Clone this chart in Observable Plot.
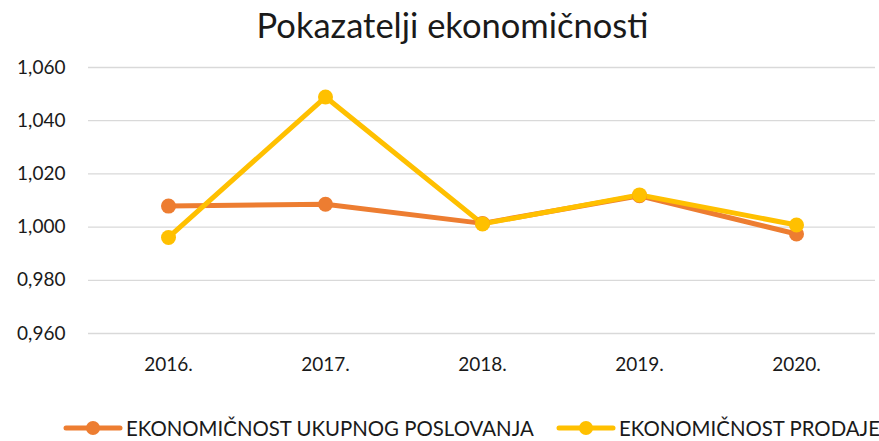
<!DOCTYPE html>
<html>
<head>
<meta charset="utf-8">
<script src="https://cdn.jsdelivr.net/npm/d3@7"></script>
<script src="https://cdn.jsdelivr.net/npm/@observablehq/plot@0.6"></script>
<style>
  html, body { margin: 0; padding: 0; background: #fff; }
  #wrap { width: 879px; height: 441px; position: relative; font-family: Lato, "Open Sans", sans-serif; color: #1a1a1a; }
  #title { height: 50px; line-height: 50px; text-align: center; font-size: 34.5px; padding-left: 26px; box-sizing: border-box; }
  #legend { position: absolute; top: 414px; left: 0; width: 879px; height: 28px; font-size: 20.4px; }
  .item { display: flex; align-items: center; position: absolute; top: 0; height: 28px; white-space: nowrap; }
  .item svg { margin-right: 3px; flex: none; }
</style>
</head>
<body>
<div id="wrap">
  <div id="title">Pokazatelji ekonomičnosti</div>
  <div id="chart"></div>
  <div id="legend"></div>
</div>
<script>
const years = ["2016.", "2017.", "2018.", "2019.", "2020."];
const ukupnoPoslovanje = [1.0079, 1.0086, 1.0014, 1.0118, 0.9974];
const prodaja = [0.9961, 1.0489, 1.0012, 1.0121, 1.0008];
const yTicks = [0.96, 0.98, 1.00, 1.02, 1.04, 1.06];
const seriesNames = ["EKONOMIČNOST UKUPNOG POSLOVANJA", "EKONOMIČNOST PRODAJE"];
const seriesColors = ["#ED7D31", "#FFC000"];

const data = [];
[ukupnoPoslovanje, prodaja].forEach((vals, s) => {
  vals.forEach((v, i) => data.push({ year: years[i], value: v, series: seriesNames[s] }));
});

const fmt = d => d.toFixed(3).replace(".", ",");

const chart = Plot.plot({
  width: 879,
  height: 355,
  marginTop: 17,
  marginBottom: 72,
  marginLeft: 88,
  marginRight: 4,
  style: { fontFamily: "Lato, 'Open Sans', sans-serif", fontSize: "19px", color: "#1a1a1a", background: "#fff" },
  x: { type: "point", domain: years, padding: 0.5, label: null },
  y: { domain: [0.96, 1.06], label: null },
  color: { domain: seriesNames, range: seriesColors },
  marks: [
    Plot.gridY(yTicks, { stroke: "#d9d9d9", strokeOpacity: 1, strokeWidth: 1.3 }),
    Plot.axisY(yTicks, { tickSize: 0, tickPadding: 23, tickFormat: fmt, fontSize: 19 }),
    Plot.axisX({ tickSize: 0, tickPadding: 24, fontSize: 19 }),
    Plot.line(data, { x: "year", y: "value", z: "series", stroke: "series", strokeWidth: 5, strokeLinejoin: "round", strokeLinecap: "round" }),
    Plot.dot(data, { x: "year", y: "value", fill: "series", r: 7.5, stroke: null })
  ]
});
document.getElementById("chart").appendChild(chart);

const legend = document.getElementById("legend");
const lefts = [63, 556];
seriesNames.forEach((name, i) => {
  const item = document.createElement("div");
  item.className = "item";
  item.style.left = lefts[i] + "px";
  item.innerHTML = `<svg width="60" height="16"><line x1="3" y1="8" x2="57" y2="8" stroke="${seriesColors[i]}" stroke-width="5" stroke-linecap="round"/><circle cx="30" cy="8" r="7" fill="${seriesColors[i]}"/></svg><span>${name}</span>`;
  legend.appendChild(item);
});
</script>
</body>
</html>
